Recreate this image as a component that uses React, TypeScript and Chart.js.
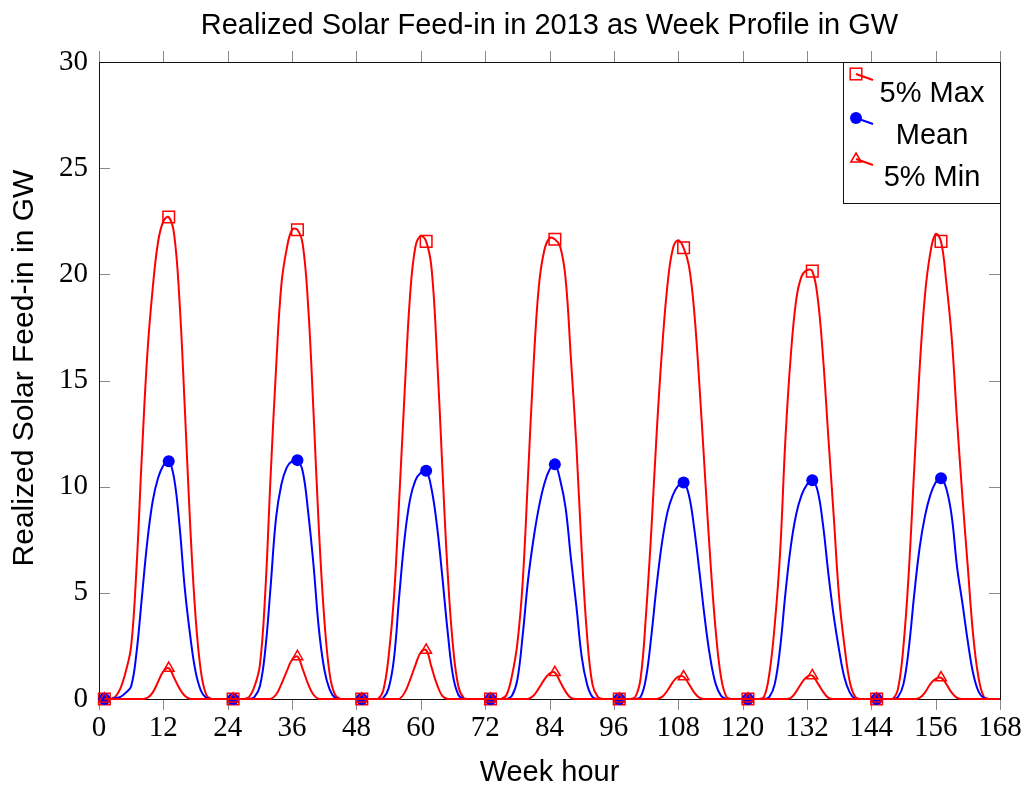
import React, { useEffect, useRef } from "react";
import { Chart, registerables } from "chart.js";

Chart.register(...registerables);

const TITLE = "Realized Solar Feed-in in 2013 as Week Profile in GW";
const X_TITLE = "Week hour";
const Y_TITLE = "Realized Solar Feed-in in GW";
const seriesLabels = ["5% Max", "Mean", "5% Min"];

// week hours 1..168
const hours: number[] = Array.from({ length: 168 }, (_, i) => i + 1);

const max5: number[] = [
  0, 0, 0.1, 0.5, 1.3, 2.5, 6.2, 11.5, 16.2, 19.3, 21.5, 22.5, 22.7, 21.9, 18.8, 13.7, 8.2, 3.9, 1.3, 0.2, 0, 0, 0, 0,
  0, 0, 0, 0.1, 0.6, 1.6, 5.0, 10.5, 15.5, 19.5, 21.2, 22.1, 22.1, 21.4, 18.5, 13.5, 8.0, 3.8, 1.2, 0.2, 0, 0, 0, 0,
  0, 0, 0, 0, 0.4, 2.0, 4.8, 9.5, 14.5, 19.0, 21.3, 21.8, 21.55, 20.3, 16.3, 11.0, 6.0, 2.5, 0.6, 0.05, 0, 0, 0, 0,
  0, 0, 0, 0.2, 1.1, 2.6, 5.5, 10.5, 15.6, 19.4, 21.1, 21.7, 21.65, 21.3, 19.8, 16.0, 12.0, 7.0, 3.0, 0.7, 0.1, 0, 0, 0,
  0, 0, 0, 0.1, 1.0, 4.0, 8.0, 12.6, 16.5, 19.5, 21.2, 21.6, 21.25, 20.4, 18.2, 14.6, 10.5, 6.5, 3.2, 1.0, 0.1, 0, 0, 0,
  0, 0, 0, 0.1, 1.2, 3.5, 6.9, 12.3, 16.2, 18.8, 19.9, 20.2, 20.15, 18.9, 16.1, 12.3, 8.6, 4.8, 2.5, 0.8, 0.1, 0, 0, 0,
  0, 0, 0, 0, 0.5, 2.5, 6.0, 10.8, 15.5, 19.0, 21.0, 21.9, 21.55, 19.6, 17.0, 13.1, 9.5, 6.2, 3.0, 1.0, 0.1, 0, 0, 0,
];

const meanVals: number[] = [
  0, 0, 0.05, 0.1, 0.3, 0.6, 2.2, 4.8, 7.4, 9.3, 10.4, 11.0, 11.2, 10.4, 8.2, 5.2, 3.0, 1.3, 0.4, 0.05, 0, 0, 0, 0,
  0, 0, 0, 0, 0.1, 0.6, 2.3, 5.3, 8.5, 10.1, 10.9, 11.2, 11.25, 10.7, 8.8, 6.3, 3.3, 1.4, 0.45, 0.05, 0, 0, 0, 0,
  0, 0, 0, 0, 0.05, 0.5, 1.9, 4.9, 7.6, 9.4, 10.3, 10.65, 10.75, 9.9, 8.2, 5.8, 3.2, 1.1, 0.2, 0, 0, 0, 0, 0,
  0, 0, 0, 0, 0.15, 0.9, 3.0, 5.6, 7.5, 9.0, 10.1, 10.8, 11.05, 10.3, 9.0, 6.6, 4.4, 2.0, 0.7, 0.1, 0, 0, 0, 0,
  0, 0, 0, 0, 0.1, 1.0, 3.0, 5.4, 7.4, 8.8, 9.6, 10.05, 10.2, 9.6, 8.0, 5.9, 3.7, 1.9, 0.7, 0.15, 0, 0, 0, 0,
  0, 0, 0, 0, 0.1, 0.7, 2.4, 5.0, 7.2, 8.7, 9.6, 10.1, 10.3, 9.8, 8.2, 5.9, 3.9, 2.3, 1.0, 0.3, 0, 0, 0, 0,
  0, 0, 0, 0, 0.1, 0.7, 2.4, 4.9, 7.1, 8.6, 9.6, 10.2, 10.4, 9.9, 8.6, 6.2, 4.5, 2.7, 1.2, 0.35, 0.05, 0, 0, 0,
];

const min5: number[] = [
  0, 0, 0, 0, 0, 0, 0, 0, 0.05, 0.3, 0.8, 1.3, 1.45, 1.0, 0.5, 0.15, 0, 0, 0, 0, 0, 0, 0, 0,
  0, 0, 0, 0, 0, 0, 0, 0, 0.2, 0.7, 1.3, 1.85, 2.0, 1.4, 0.7, 0.2, 0, 0, 0, 0, 0, 0, 0, 0,
  0, 0, 0, 0, 0, 0, 0, 0, 0.3, 0.9, 1.6, 2.2, 2.3, 1.5, 0.7, 0.15, 0, 0, 0, 0, 0, 0, 0, 0,
  0, 0, 0, 0, 0, 0, 0, 0, 0.15, 0.5, 0.9, 1.2, 1.25, 0.8, 0.35, 0.05, 0, 0, 0, 0, 0, 0, 0, 0,
  0, 0, 0, 0, 0, 0, 0, 0, 0.1, 0.4, 0.8, 1.05, 1.05, 0.7, 0.3, 0.05, 0, 0, 0, 0, 0, 0, 0, 0,
  0, 0, 0, 0, 0, 0, 0, 0, 0.05, 0.35, 0.75, 1.05, 1.1, 0.75, 0.35, 0.05, 0, 0, 0, 0, 0, 0, 0, 0,
  0, 0, 0, 0, 0, 0, 0, 0, 0.05, 0.3, 0.7, 0.95, 1.0, 0.7, 0.3, 0.05, 0, 0, 0, 0, 0, 0, 0, 0,
];

const X_MIN = 0;
const X_MAX = 168;
const X_STEP = 12;
const Y_MIN = 0;
const Y_MAX = 30;
const Y_STEP = 5;

const RED = "#ff0000";
const BLUE = "#0000ff";
const TICK_GRAY = "#8a8a8a";
const SANS = "'Liberation Sans', Arial, sans-serif";
const SERIF = "'Liberation Serif', 'Times New Roman', serif";

const markEvery = 12;

function drawMarker(ctx: CanvasRenderingContext2D, kind: string, x: number, y: number) {
  ctx.save();
  ctx.lineWidth = 1.5;
  if (kind === "rect") {
    ctx.strokeStyle = RED;
    ctx.strokeRect(x - 5.8, y - 5.8, 11.6, 11.6);
  } else if (kind === "circle") {
    ctx.fillStyle = BLUE;
    ctx.beginPath();
    ctx.arc(x, y, 6, 0, Math.PI * 2);
    ctx.fill();
  } else {
    ctx.strokeStyle = RED;
    ctx.beginPath();
    ctx.moveTo(x, y - 6);
    ctx.lineTo(x + 5.2, y + 3);
    ctx.lineTo(x - 5.2, y + 3);
    ctx.closePath();
    ctx.stroke();
  }
  ctx.restore();
}

const decorPlugin = {
  id: "decor",
  beforeDatasetsDraw(chart: any) {
    const { ctx, chartArea: a, scales } = chart;
    ctx.save();
    ctx.strokeStyle = TICK_GRAY;
    ctx.lineWidth = 1;
    ctx.beginPath();
    scales.y.ticks.forEach((t: any) => {
      const py = Math.round(scales.y.getPixelForValue(t.value)) + 0.5;
      ctx.moveTo(a.left, py);
      ctx.lineTo(a.left + 11, py);
      ctx.moveTo(a.right, py);
      ctx.lineTo(a.right - 11, py);
    });
    scales.x.ticks.forEach((t: any) => {
      const px = Math.round(scales.x.getPixelForValue(t.value)) + 0.5;
      ctx.moveTo(px, a.top);
      ctx.lineTo(px, a.top - 11);
      ctx.moveTo(px, a.bottom);
      ctx.lineTo(px, a.bottom + 11);
    });
    ctx.stroke();
    ctx.strokeStyle = "#111";
    ctx.lineWidth = 1;
    ctx.strokeRect(Math.round(a.left) + 0.5, Math.round(a.top) + 0.5, Math.round(a.right - a.left), Math.round(a.bottom - a.top));
    ctx.restore();
  },
  afterDraw(chart: any) {
    const { ctx, chartArea: a } = chart;
    ctx.save();
    // title
    ctx.fillStyle = "#000";
    ctx.font = `29px ${SANS}`;
    ctx.textAlign = "center";
    ctx.textBaseline = "middle";
    ctx.fillText(TITLE, (a.left + a.right) / 2, 26);
    // y title
    ctx.save();
    ctx.translate(25, 368);
    ctx.rotate(-Math.PI / 2);
    ctx.font = `30px ${SANS}`;
    ctx.fillText(Y_TITLE, 0, 0);
    ctx.restore();
    // legend
    const bx = a.right - 157;
    const by = a.top;
    ctx.fillStyle = "#fff";
    ctx.fillRect(bx, by, 157, 141);
    ctx.strokeStyle = "#111";
    ctx.lineWidth = 1;
    ctx.strokeRect(Math.round(bx) + 0.5, Math.round(by) + 0.5, 157, 141);
    const kinds = ["rect", "circle", "triangle"];
    const colors = [RED, BLUE, RED];
    const iconY = [12, 56, 97];
    const textY = [32, 74, 116];
    chart.data.datasets.forEach((ds: any, i: number) => {
      const mx = bx + 13;
      const my = by + iconY[i];
      ctx.strokeStyle = colors[i];
      ctx.lineWidth = 2;
      ctx.beginPath();
      ctx.moveTo(mx, my);
      ctx.lineTo(mx + 17, my + 6);
      ctx.stroke();
      drawMarker(ctx, kinds[i], mx, my);
      ctx.fillStyle = "#000";
      ctx.font = `29px ${SANS}`;
      ctx.textAlign = "center";
      ctx.textBaseline = "middle";
      ctx.fillText(ds.label, a.right - 68, by + textY[i]);
    });
    ctx.restore();
  },
};

export default function App() {
  const canvasRef = useRef<HTMLCanvasElement | null>(null);

  useEffect(() => {
    if (!canvasRef.current) return;
    const radiusFor = (r: number) => (c: any) => (c.dataIndex % markEvery === 0 ? r : 0);
    const chart = new Chart(canvasRef.current, {
      type: "line",
      data: {
        datasets: [
          {
            label: seriesLabels[0],
            data: hours.map((h, i) => ({ x: h, y: max5[i] })),
            borderColor: RED,
            backgroundColor: "rgba(0,0,0,0)",
            borderWidth: 2,
            pointStyle: "rect",
            pointRadius: radiusFor(8.2),
            pointBorderWidth: 1.5,
            pointBorderColor: RED,
            pointBackgroundColor: "rgba(0,0,0,0)",
            tension: 0.4,
            clip: false,
            order: 3,
          },
          {
            label: seriesLabels[1],
            data: hours.map((h, i) => ({ x: h, y: meanVals[i] })),
            borderColor: BLUE,
            backgroundColor: BLUE,
            borderWidth: 2,
            pointStyle: "circle",
            pointRadius: radiusFor(6),
            pointBorderWidth: 0,
            pointBackgroundColor: BLUE,
            tension: 0.4,
            clip: false,
            order: 2,
          },
          {
            label: seriesLabels[2],
            data: hours.map((h, i) => ({ x: h, y: min5[i] })),
            borderColor: RED,
            backgroundColor: "rgba(0,0,0,0)",
            borderWidth: 2,
            pointStyle: "triangle",
            pointRadius: radiusFor(6.2),
            pointBorderWidth: 1.5,
            pointBorderColor: RED,
            pointBackgroundColor: "rgba(0,0,0,0)",
            tension: 0.4,
            clip: false,
            order: 1,
          },
        ],
      },
      options: {
        animation: false,
        responsive: true,
        maintainAspectRatio: false,
        events: [],
        layout: { padding: { top: 62, right: 27, left: 0, bottom: 0 } },
        plugins: {
          legend: { display: false },
          title: { display: false },
          tooltip: { enabled: false },
        },
        scales: {
          x: {
            type: "linear",
            min: X_MIN,
            max: X_MAX,
            grid: { display: false, drawTicks: false },
            border: { display: false },
            ticks: {
              stepSize: X_STEP,
              autoSkip: false,
              maxRotation: 0,
              padding: 12,
              color: "#000",
              font: { family: SERIF, size: 29 },
            },
            title: {
              display: true,
              text: X_TITLE,
              color: "#000",
              font: { family: SANS, size: 29 },
              padding: { top: 0, bottom: 0 },
            },
            afterFit: (s: any) => {
              s.height = 91;
              s.paddingLeft = 0;
              s.paddingRight = 0;
            },
          },
          y: {
            type: "linear",
            min: Y_MIN,
            max: Y_MAX,
            grid: { display: false, drawTicks: false },
            border: { display: false },
            ticks: {
              stepSize: Y_STEP,
              padding: 11,
              color: "#000",
              font: { family: SERIF, size: 29 },
            },
            afterFit: (s: any) => {
              s.width = 99;
              s.paddingTop = 0;
              s.paddingBottom = 0;
            },
          },
        },
      },
      plugins: [decorPlugin],
    });
    return () => chart.destroy();
  }, []);

  return (
    <div style={{ position: "fixed", left: 0, top: 0, width: 1027, height: 790, background: "#fff" }}>
      <canvas ref={canvasRef} />
    </div>
  );
}
